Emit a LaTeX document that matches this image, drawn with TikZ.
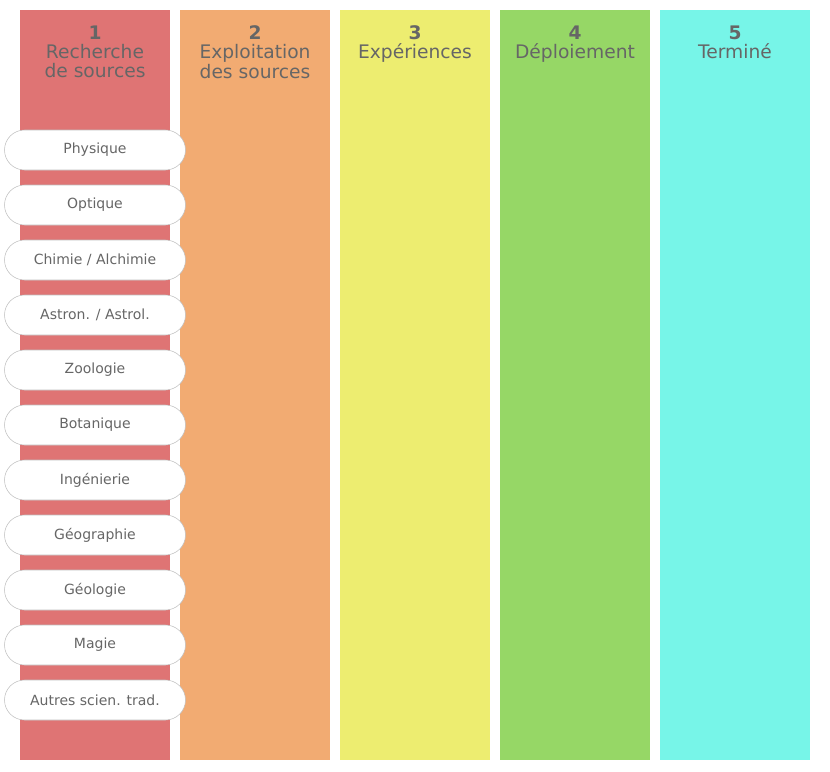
\documentclass[tikz,border=0pt]{standalone}
\usepackage{fontspec}
\setmainfont{DejaVu Sans}
\definecolor{colA}{HTML}{DF7474}
\definecolor{colB}{HTML}{F2AB72}
\definecolor{colC}{HTML}{EDED70}
\definecolor{colD}{HTML}{96D766}
\definecolor{colE}{HTML}{77F5E8}
\definecolor{txtgray}{HTML}{666666}
\tikzset{
  column/.style={inner sep=0pt, minimum width=112.5pt, minimum height=562.5pt, anchor=north west},
  heading/.style={text=txtgray, font=\fontsize{14}{14.5}\selectfont, align=center, anchor=north},
  pill/.style={draw=black!25, fill=white, rounded corners=15pt, minimum width=135.75pt, minimum height=30pt, inner sep=0pt, text=txtgray, font=\fontsize{10.5}{12}\selectfont}
}
\begin{document}
\begin{tikzpicture}[x=0.75pt, y=-0.75pt]
\useasboundingbox (0,0) rectangle (830,771);

% Columns
\node[column, fill=colA] (c1) at (20,10) {};
\node[column, fill=colB] (c2) at (180,10) {};
\node[column, fill=colC] (c3) at (340,10) {};
\node[column, fill=colD] (c4) at (500,10) {};
\node[column, fill=colE] (c5) at (660,10) {};

% Headings
\node[heading] (h1) at (95,21) {\textbf{1}\\Recherche\\de sources};
\node[heading] (h2) at (255,21) {\textbf{2}\\Exploitation\\des sources};
\node[heading] (h3) at (415,21) {\textbf{3}\\Expériences};
\node[heading] (h4) at (575,21) {\textbf{4}\\Déploiement};
\node[heading] (h5) at (735,21) {\textbf{5}\\Terminé};

% Sources
\foreach \lbl [count=\i] in {Physique, Optique, Chimie / Alchimie, Astron. / Astrol., Zoologie, Botanique, Ingénierie, Géographie, Géologie, Magie, Autres scien. trad.}
  \node[pill] (s\i) at (95,95+55*\i) {\lbl};
\end{tikzpicture}
\end{document}
